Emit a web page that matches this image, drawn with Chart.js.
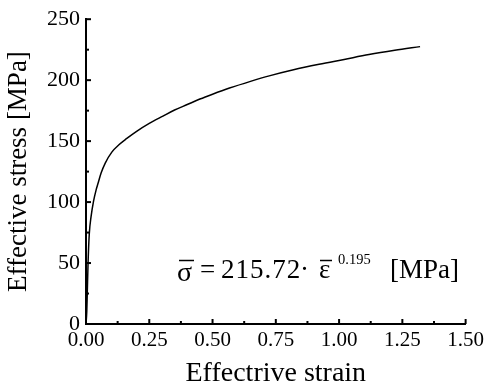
<!DOCTYPE html>
<html>
<head>
<meta charset="utf-8">
<script src="https://cdn.jsdelivr.net/npm/chart.js@4"></script>
<style>
  html, body { margin: 0; padding: 0; background: #fff; }
  #wrap { width: 488px; height: 390px; position: relative; }
</style>
</head>
<body>
<div id="wrap"><canvas id="c" width="488" height="390"></canvas></div>
<script>
// Values
const strain = [0, 0.003, 0.005, 0.008, 0.013, 0.02, 0.03, 0.04, 0.047, 0.06, 0.076, 0.102, 0.13, 0.16, 0.2, 0.25, 0.304, 0.35, 0.4, 0.45, 0.5, 0.567, 0.65, 0.724, 0.82, 0.921, 1.02, 1.118, 1.22, 1.32];
const stress = [0, 10, 25, 49, 74, 88, 101, 110, 115, 124, 132, 141, 147, 152, 158, 164.5, 170.5, 175.5, 180, 184.5, 188.5, 193.5, 199, 203.5, 208.5, 213, 217, 221, 224.5, 227.5];
const xTicks = [0, 0.25, 0.5, 0.75, 1.0, 1.25, 1.5];
const yTicks = [0, 50, 100, 150, 200, 250];
const xTitle = 'Effectrive strain';
const yTitle = 'Effective stress [MPa]';

const FONT = '"Liberation Serif", "Times New Roman", serif';

const points = strain.map((s, i) => ({ x: s, y: stress[i] }));

const tickPlugin = {
  id: 'inTicks',
  afterDraw(chart) {
    const ctx = chart.ctx;
    const xs = chart.scales.x, ys = chart.scales.y;
    const area = chart.chartArea;
    ctx.save();
    ctx.strokeStyle = '#000';
    ctx.lineWidth = 2;
    for (let i = 0; i < xTicks.length; i++) {
      const px = xs.getPixelForValue(xTicks[i]);
      ctx.beginPath(); ctx.moveTo(px, area.bottom); ctx.lineTo(px, area.bottom - 5); ctx.stroke();
      if (i < xTicks.length - 1) {
        const pm = xs.getPixelForValue((xTicks[i] + xTicks[i + 1]) / 2);
        ctx.beginPath(); ctx.moveTo(pm, area.bottom); ctx.lineTo(pm, area.bottom - 3); ctx.stroke();
      }
    }
    for (let i = 0; i < yTicks.length; i++) {
      const py = ys.getPixelForValue(yTicks[i]);
      ctx.beginPath(); ctx.moveTo(area.left, py); ctx.lineTo(area.left + 5, py); ctx.stroke();
      if (i < yTicks.length - 1) {
        const pm = ys.getPixelForValue((yTicks[i] + yTicks[i + 1]) / 2);
        ctx.beginPath(); ctx.moveTo(area.left, pm); ctx.lineTo(area.left + 3, pm); ctx.stroke();
      }
    }
    // equation annotation
    ctx.fillStyle = '#000';
    ctx.textAlign = 'left';
    ctx.textBaseline = 'alphabetic';
    ctx.font = '28px ' + FONT;
    ctx.fillText('σ', 177, 281);
    ctx.font = '27px ' + FONT;
    ctx.fillText('=', 200, 278);
    if ('letterSpacing' in ctx) ctx.letterSpacing = '1px';
    ctx.fillText('215.72', 221, 278);
    if ('letterSpacing' in ctx) ctx.letterSpacing = '0px';
    ctx.fillText('·', 300, 278);
    ctx.fillText('ε', 319, 278);
    ctx.fillText('[MPa]', 390, 278);
    ctx.font = '14.5px ' + FONT;
    ctx.fillText('0.195', 338, 264);
    ctx.lineWidth = 1.5;
    ctx.beginPath(); ctx.moveTo(179, 260.5); ctx.lineTo(194, 260.5); ctx.stroke();
    ctx.beginPath(); ctx.moveTo(320, 260.5); ctx.lineTo(332, 260.5); ctx.stroke();
    ctx.restore();
  }
};

new Chart(document.getElementById('c'), {
  type: 'line',
  data: {
    datasets: [{
      data: points,
      borderColor: '#000',
      borderWidth: 1.5,
      pointRadius: 0,
      fill: false,
      cubicInterpolationMode: 'monotone'
    }]
  },
  options: {
    responsive: false,
    animation: false,
    devicePixelRatio: 1,
    layout: { padding: { left: 0, right: 21, top: 16, bottom: 0 } },
    plugins: { legend: { display: false }, tooltip: { enabled: false } },
    scales: {
      x: {
        type: 'linear',
        min: 0, max: 1.5,
        afterBuildTicks(scale) { scale.ticks = xTicks.map(v => ({ value: v })); },
        afterFit(scale) { scale.height = 66; },
        grid: { display: false, drawTicks: false },
        border: { display: true, color: '#000', width: 2 },
        ticks: {
          color: '#000', padding: 4, maxRotation: 0,
          font: { family: FONT, size: 21 },
          callback: v => Number(v).toFixed(2)
        },
        title: {
          display: true, text: xTitle, color: '#000',
          font: { family: FONT, size: 28 },
          padding: { top: 0, bottom: 0 }
        }
      },
      y: {
        type: 'linear',
        min: 0, max: 250,
        afterBuildTicks(scale) { scale.ticks = yTicks.map(v => ({ value: v })); },
        afterFit(scale) { scale.width = 86; },
        grid: { display: false, drawTicks: false },
        border: { display: true, color: '#000', width: 2 },
        ticks: {
          color: '#000', padding: 6,
          font: { family: FONT, size: 22 },
          callback: v => String(v)
        },
        title: {
          display: true, text: yTitle, color: '#000',
          font: { family: FONT, size: 27 },
          padding: { top: 3, bottom: 0 }
        }
      }
    }
  },
  plugins: [tickPlugin]
});
</script>
</body>
</html>
